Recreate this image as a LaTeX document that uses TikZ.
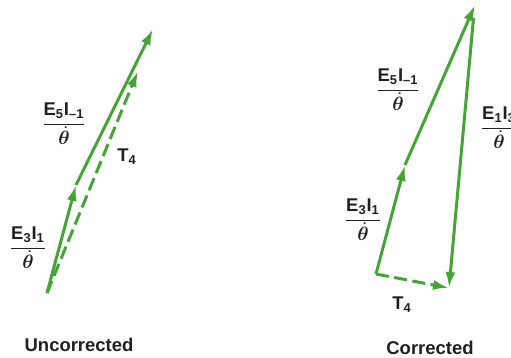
\documentclass[tikz,border=0pt]{standalone}
\usepackage{fontspec}
\usepackage{amsmath,bm}
\setmainfont{Liberation Sans}
\usetikzlibrary{arrows.meta}

\definecolor{vecgreen}{HTML}{46A338}
\definecolor{inkdark}{HTML}{231F20}

\newcommand{\overrate}[1]{$\displaystyle\frac{\hbox{\bfseries #1}}{\dot{\bm{\theta}}}$}

\begin{document}
\begin{tikzpicture}[
    vec/.style={line width=1.7pt, vecgreen,
                -{Latex[length=3.2mm,width=2mm]}},
    dvec/.style={vec, dash pattern=on 2.6mm off 1.1mm},
    lbl/.style={font=\fontsize{10.5}{12}\selectfont\bfseries, text=inkdark,
                inner sep=1pt},
    ttl/.style={font=\fontsize{10.5}{12}\selectfont\bfseries, text=inkdark},
]
\useasboundingbox (0,0) rectangle (10.22,7.16);

% --- Uncorrected (left) ---
\coordinate (o1) at (0.94, 1.30);
\coordinate (a1) at (1.52, 3.46);
\coordinate (b1) at (3.06, 6.58);
\coordinate (d1) at (2.76, 5.74);

\draw[dvec] (o1) -- (d1);
\draw[vec] (o1) -- (a1);
\draw[vec] (a1) -- (b1);

\node[lbl] (rl1) at (0.56, 2.20) {\overrate{E\textsubscript{3}I\textsubscript{1}}};
\node[lbl] (rl2) at (1.28, 4.68) {\overrate{E\textsubscript{5}I\textsubscript{–1}}};
\node[lbl] (tl)  at (2.54, 4.02) {T\textsubscript{4}};

\node[ttl] (uncor) at (1.58, 0.26) {Uncorrected};

% --- Corrected (right) ---
\coordinate (o2) at (7.52, 1.68);
\coordinate (a2) at (8.10, 3.86);
\coordinate (b2) at (9.50, 7.06);
\coordinate (s2) at (9.47, 6.80);
\coordinate (c2) at (8.98, 1.40);

\draw[dvec] (o2) -- (c2);
\draw[vec] (o2) -- (a2);
\draw[vec] (a2) -- (b2);
\draw[vec] (s2) -- (c2);

\node[lbl] (rr1) at (7.26, 2.76) {\overrate{E\textsubscript{3}I\textsubscript{1}}};
\node[lbl] (rr2) at (7.96, 5.36) {\overrate{E\textsubscript{5}I\textsubscript{–1}}};
\node[lbl] (rr3) at (9.98, 4.60) {\overrate{E\textsubscript{1}I\textsubscript{3}}};
\node[lbl] (tr)  at (8.04, 1.06) {T\textsubscript{4}};

\node[ttl] (cor) at (8.60, 0.20) {Corrected};

\end{tikzpicture}
\end{document}
